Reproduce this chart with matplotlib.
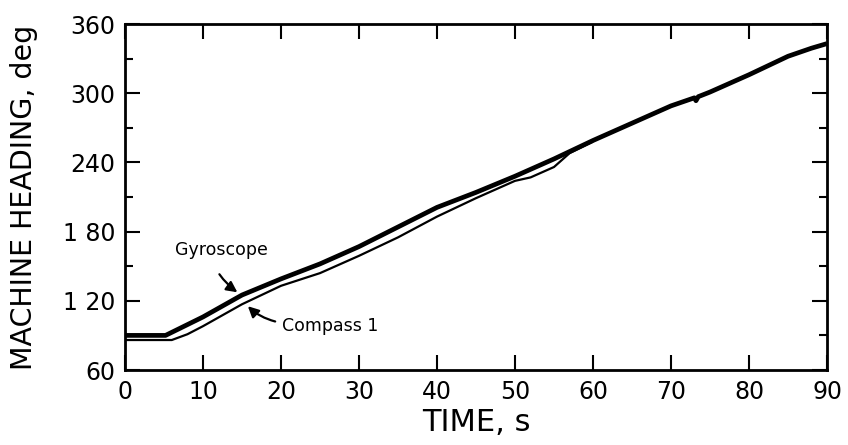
import matplotlib
matplotlib.use('Agg')
import matplotlib.pyplot as plt
from matplotlib.ticker import MultipleLocator

# values
time_gyro = [0, 5.2, 7, 10, 15, 20, 25, 30, 35, 40, 45, 50, 55, 60, 65, 70,
             73, 73.2, 73.5, 75, 80, 85, 88, 90]
heading_gyro = [90, 90, 96, 106, 125, 139, 152, 167, 184, 201, 214, 228, 243,
                259, 274, 289, 296, 293.5, 297, 301, 316, 332, 339, 343]

time_compass = [0, 6, 8, 10, 15, 20, 25, 30, 35, 40, 45, 50, 52, 55, 57, 60]
heading_compass = [86, 86, 91, 98, 117, 133, 144, 159, 175, 193, 209, 224,
                   227, 236, 248, 258]

x_ticks = [0, 10, 20, 30, 40, 50, 60, 70, 80, 90]
y_ticks = [60, 120, 180, 240, 300, 360]
y_labels = ['60', '1 20', '1 80', '240', '300', '360']


def draw(ax):
    ax.plot(time_gyro, heading_gyro, color='black', lw=3.4,
            solid_capstyle='butt', zorder=3)
    ax.plot(time_compass, heading_compass, color='black', lw=1.6,
            solid_capstyle='butt', zorder=2)

    ax.set_xlim(0, 90)
    ax.set_ylim(60, 360)
    ax.set_xticks(x_ticks)
    ax.set_yticks(y_ticks)
    ax.set_yticklabels(y_labels)
    ax.yaxis.set_minor_locator(MultipleLocator(30))

    ax.tick_params(which='both', direction='in', top=True, right=True,
                   width=1.5, labelsize=17, pad=7, colors='black')
    ax.tick_params(which='major', length=11)
    ax.tick_params(which='minor', length=6)
    for sp in ax.spines.values():
        sp.set_linewidth(2)

    ax.set_xlabel('TIME, s', fontsize=22, labelpad=3)
    ax.set_ylabel('MACHINE HEADING, deg', fontsize=20.5)
    ax.yaxis.set_label_coords(-87 / 702, 0.5)

    arrow = dict(arrowstyle='-|>', color='black', lw=1.6, mutation_scale=16)
    ax.text(12.4, 164, 'Gyroscope', fontsize=12.5, ha='center', va='center')
    ax.annotate('', xy=(14.7, 126), xytext=(11.9, 145),
                arrowprops=dict(arrow, connectionstyle='arc3,rad=0.1'))
    ax.text(20.1, 98, 'Compass 1', fontsize=12.5, ha='left', va='center')
    ax.annotate('', xy=(15.5, 117), xytext=(19.6, 101.5),
                arrowprops=dict(arrow, connectionstyle='arc3,rad=-0.15'))


if __name__ == '__main__':
    fig = plt.figure(figsize=(8.48, 4.45), dpi=100)
    ax = fig.add_axes([125 / 848, 1 - 370 / 445, (827 - 125) / 848, (370 - 24) / 445])
    draw(ax)
    fig.savefig('out.png', dpi=100, facecolor='white')
